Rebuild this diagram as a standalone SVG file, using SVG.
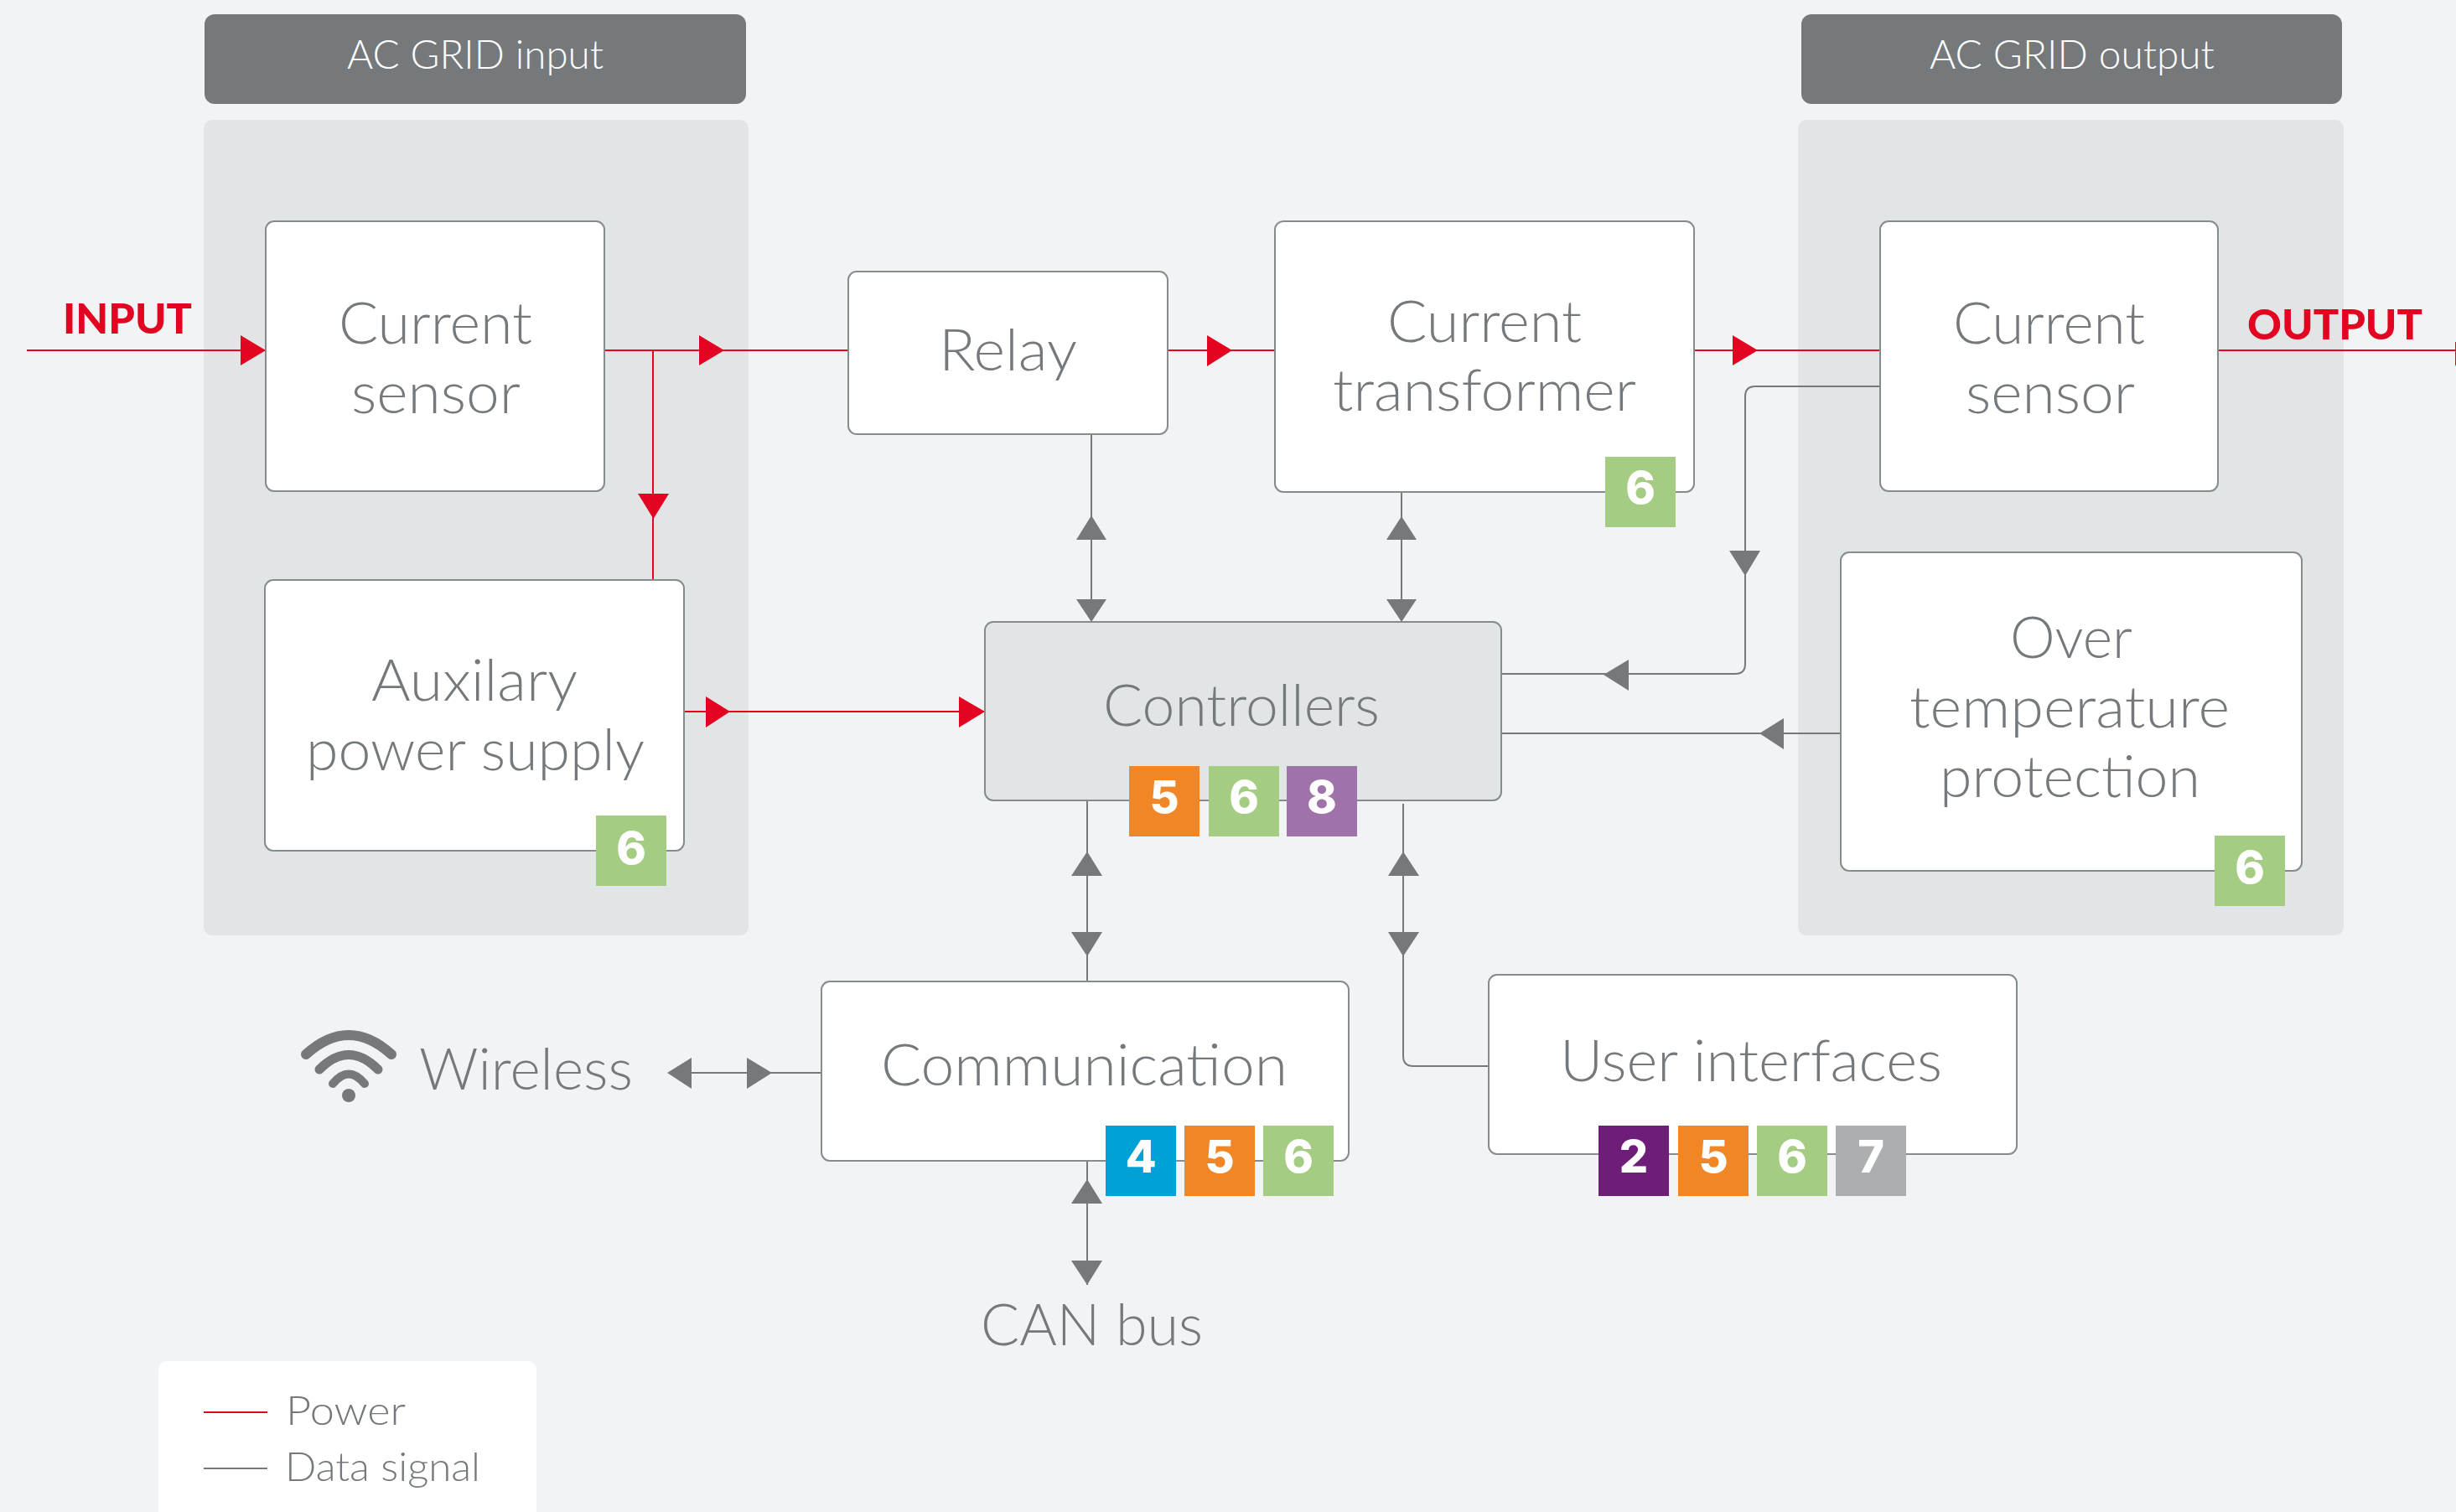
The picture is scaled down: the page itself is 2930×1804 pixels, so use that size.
<svg xmlns="http://www.w3.org/2000/svg" width="2930" height="1804" viewBox="0 0 2930 1804">
<style>
text{font-family:"Lato","Open Sans","Liberation Sans",sans-serif}
.bg{fill:#f1f3f5}
.panel{fill:#e1e5e6}
.head{fill:#75797c}
.box{fill:#fff;stroke:#868b8e;stroke-width:2}
.ctrl{fill:#e1e5e6;stroke:#868b8e;stroke-width:2}
.t{font-size:68px;font-weight:300;fill:#75797c;text-anchor:start}
.h{font-size:48px;font-weight:300;fill:#fff}
.l{font-size:48px;font-weight:300;fill:#75797c}
.io{font-size:50px;font-weight:900;fill:#e30421}
.n{font-family:"Inter","Lato",sans-serif;font-size:54px;font-weight:800;fill:#fff;text-anchor:middle}
.r{stroke:#e30421;stroke-width:2;fill:none}
.g{stroke:#75797c;stroke-width:2;fill:none}
.ra{fill:#e30421}
.ga{fill:#75797c}
.o{fill:#f18626}.c6{fill:#a4cd83}.p{fill:#9f72aa}.b{fill:#00a1d6}.d{fill:#6e1e78}.s{fill:#abafb2}
</style>
<rect class="bg" width="2930" height="1804"/>
<g id="panel-input"><rect class="panel" x="243" y="143" width="650" height="973" rx="10"/><rect class="head" x="244" y="17" width="646" height="107" rx="12"/><text class="h" x="414" y="82" textLength="306" lengthAdjust="spacingAndGlyphs">AC GRID input</text></g>
<g id="panel-output"><rect class="panel" x="2145" y="143" width="651" height="973" rx="10"/><rect class="head" x="2149" y="17" width="645" height="107" rx="12"/><text class="h" x="2302" y="82" textLength="340" lengthAdjust="spacingAndGlyphs">AC GRID output</text></g>
<g id="connectors">
<path class="r" d="M32 418H317M721 418H1012M779 418V692M1393 418H1521M2021 418H2243M2646 418H2930M816 849H1175"/>
<polygon class="ra" points="287,400 317,418 287,436"/>
<polygon class="ra" points="834,400 864,418 834,436"/>
<polygon class="ra" points="761,589 798,589 779.500,619"/>
<polygon class="ra" points="1440,400 1470,418 1440,437"/>
<polygon class="ra" points="2067,400 2097,418 2067,436"/>
<polygon class="ra" points="842,831 871,849 842,868"/>
<polygon class="ra" points="1144,831 1175,849 1144,868"/>
<polygon class="ra" points="2929,408 2930,408 2930,436 2929,436"/>
<path class="g" d="M1302 518V742M1672 587V742M1297 955V1171M1297 1385V1533M980 1280H825M1674 959V1260Q1674 1272 1686 1272H1776M2243 461H2094Q2082 461 2082 473V792Q2082 804 2070 804H1791M2196 875H1791"/>
<polygon class="ga" points="1284,644 1320,644 1302,615"/>
<polygon class="ga" points="1284,715 1320,715 1302,742"/>
<polygon class="ga" points="1654,644 1690,644 1672,616"/>
<polygon class="ga" points="1654,715 1690,715 1672,742"/>
<polygon class="ga" points="1278,1045 1315,1045 1297,1016"/>
<polygon class="ga" points="1278,1112 1315,1112 1297,1141"/>
<polygon class="ga" points="1656,1045 1693,1045 1674,1016"/>
<polygon class="ga" points="1656,1112 1693,1112 1674,1141"/>
<polygon class="ga" points="1278,1436 1315,1436 1297,1407"/>
<polygon class="ga" points="1278,1504 1315,1504 1297,1533"/>
<polygon class="ga" points="825,1262 825,1299 796,1280"/>
<polygon class="ga" points="891,1262 891,1299 921,1280"/>
<polygon class="ga" points="2063,657 2100,657 2082,687"/>
<polygon class="ga" points="1943,787 1943,824 1913,805"/>
<polygon class="ga" points="2128,857 2128,894 2099,875"/>
</g>
<g id="node-current-sensor-in"><rect class="box" x="317" y="264" width="404" height="322" rx="10"/><text class="t" x="404" y="410" textLength="231" lengthAdjust="spacingAndGlyphs">Current</text><text class="t" x="419" y="493" textLength="202" lengthAdjust="spacingAndGlyphs">sensor</text></g>
<g id="node-relay"><rect class="box" x="1012" y="324" width="381" height="194" rx="10"/><text class="t" x="1120" y="442" textLength="165" lengthAdjust="spacingAndGlyphs">Relay</text></g>
<g id="node-current-transformer"><rect class="box" x="1521" y="264" width="500" height="323" rx="10"/><text class="t" x="1655" y="408" textLength="232" lengthAdjust="spacingAndGlyphs">Current</text><text class="t" x="1590" y="490" textLength="362" lengthAdjust="spacingAndGlyphs">transformer</text><rect class="c6" x="1915" y="545" width="84" height="84"/><text class="n" x="1957" y="601">6</text></g>
<g id="node-current-sensor-out"><rect class="box" x="2243" y="264" width="403" height="322" rx="10"/><text class="t" x="2330" y="410" textLength="229" lengthAdjust="spacingAndGlyphs">Current</text><text class="t" x="2345" y="493" textLength="202" lengthAdjust="spacingAndGlyphs">sensor</text></g>
<g id="node-aux"><rect class="box" x="316" y="692" width="500" height="323" rx="10"/><text class="t" x="443" y="836" textLength="246" lengthAdjust="spacingAndGlyphs">Auxilary</text><text class="t" x="365" y="919" textLength="404" lengthAdjust="spacingAndGlyphs">power supply</text><rect class="c6" x="711" y="973" width="84" height="84"/><text class="n" x="753" y="1031">6</text></g>
<g id="node-controllers"><rect class="ctrl" x="1175" y="742" width="616" height="213" rx="10"/><text class="t" x="1316" y="866" textLength="330" lengthAdjust="spacingAndGlyphs">Controllers</text><rect class="o" x="1347" y="914" width="84" height="84"/><text class="n" x="1389" y="970">5</text><rect class="c6" x="1442" y="914" width="84" height="84"/><text class="n" x="1484" y="970">6</text><rect class="p" x="1535" y="914" width="84" height="84"/><text class="n" x="1577" y="970">8</text></g>
<g id="node-over-temperature"><rect class="box" x="2196" y="659" width="550" height="380" rx="10"/><text class="t" x="2398" y="785" textLength="146" lengthAdjust="spacingAndGlyphs">Over</text><text class="t" x="2278" y="868" textLength="382" lengthAdjust="spacingAndGlyphs">temperature</text><text class="t" x="2314" y="951" textLength="311" lengthAdjust="spacingAndGlyphs">protection</text><rect class="c6" x="2642" y="997" width="84" height="84"/><text class="n" x="2684" y="1054">6</text></g>
<g id="node-communication"><rect class="box" x="980" y="1171" width="629" height="214" rx="10"/><text class="t" x="1051" y="1295" textLength="485" lengthAdjust="spacingAndGlyphs">Communication</text><rect class="b" x="1319" y="1343" width="84" height="84"/><text class="n" x="1361" y="1399">4</text><rect class="o" x="1413" y="1343" width="84" height="84"/><text class="n" x="1455" y="1399">5</text><rect class="c6" x="1507" y="1343" width="84" height="84"/><text class="n" x="1549" y="1399">6</text></g>
<g id="node-user-interfaces"><rect class="box" x="1776" y="1163" width="630" height="214" rx="10"/><text class="t" x="1861" y="1290" textLength="456" lengthAdjust="spacingAndGlyphs">User interfaces</text><rect class="d" x="1907" y="1343" width="84" height="84"/><text class="n" x="1949" y="1399">2</text><rect class="o" x="2002" y="1343" width="84" height="84"/><text class="n" x="2044" y="1399">5</text><rect class="c6" x="2096" y="1343" width="84" height="84"/><text class="n" x="2138" y="1399">6</text><rect class="s" x="2190" y="1343" width="84" height="84"/><text class="n" x="2232" y="1399">7</text></g>
<g id="node-wireless"><g fill="none" stroke="#75797c" stroke-linecap="round"><path stroke-width="12" d="M365 1258Q416 1212 467 1258"/><path stroke-width="11" d="M381 1276Q416 1241 451 1276"/><path stroke-width="10" d="M397 1293Q416 1270 435 1293"/></g><circle class="ga" cx="416" cy="1307" r="8"/><text class="t" x="500" y="1300" textLength="255" lengthAdjust="spacingAndGlyphs">Wireless</text></g>
<g id="node-can-bus"><text class="t" x="1170" y="1605" textLength="265" lengthAdjust="spacingAndGlyphs">CAN bus</text></g>
<g id="label-input"><text class="io" x="75" y="398" textLength="154" lengthAdjust="spacingAndGlyphs">INPUT</text></g>
<g id="label-output"><text class="io" x="2681" y="405" textLength="209" lengthAdjust="spacingAndGlyphs">OUTPUT</text></g>
<g id="legend"><rect fill="#fff" x="189" y="1624" width="451" height="200" rx="10"/><line class="r" x1="243" y1="1685" x2="319" y2="1685"/><line class="g" x1="243" y1="1752" x2="319" y2="1752"/><text class="l" x="341" y="1700" textLength="143" lengthAdjust="spacingAndGlyphs">Power</text><text class="l" x="340" y="1767" textLength="233" lengthAdjust="spacingAndGlyphs">Data signal</text></g>
</svg>
